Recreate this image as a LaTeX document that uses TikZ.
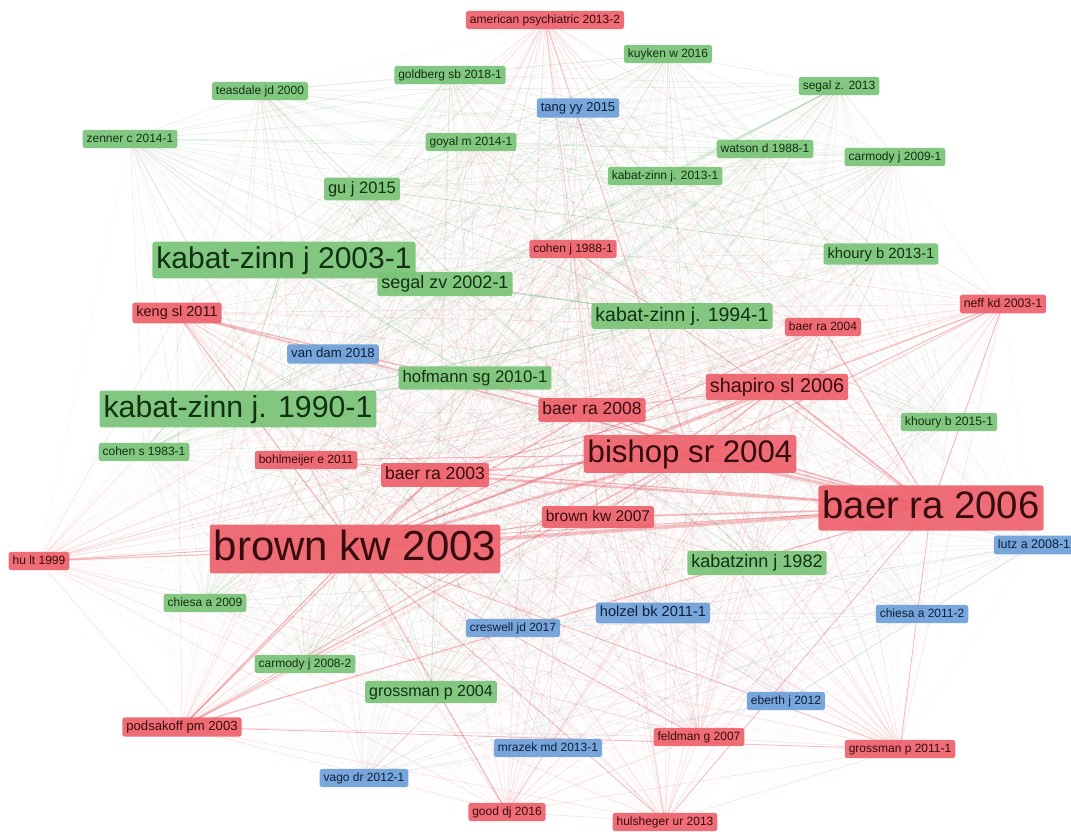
\documentclass[tikz,border=0pt]{standalone}
\usepackage{fontspec}
\setmainfont{Liberation Sans}
\pgfdeclarelayer{bg}
\pgfsetlayers{bg,main}
\definecolor{rfill}{RGB}{238,98,108}
\definecolor{gfill}{RGB}{122,196,120}
\definecolor{bfill}{RGB}{110,160,216}
\definecolor{rtext}{RGB}{55,12,14}
\definecolor{gtext}{RGB}{18,48,18}
\definecolor{btext}{RGB}{14,30,58}
\definecolor{redge}{RGB}{226,70,80}
\definecolor{gedge}{RGB}{90,170,95}
\definecolor{bedge}{RGB}{90,140,200}
\definecolor{xedge}{RGB}{150,150,160}
\tikzset{
  lbl/.style={rounded corners=2.5pt, inner xsep=4pt, inner ysep=3pt, anchor=center, fill opacity=0.93, text opacity=1},
  fs/.style={lbl, font=\fontsize{#1}{#1}\selectfont, text height=#1*0.78pt, text depth=#1*0.24pt},
  rn/.style={fs=#1, fill=rfill, text=rtext},
  gn/.style={fs=#1, fill=gfill, text=gtext},
  bn/.style={fs=#1, fill=bfill, text=btext},
  rr/.style={draw=redge, line width=0.45pt, opacity=0.22},
  gg/.style={draw=gedge, line width=0.45pt, opacity=0.2},
  bb/.style={draw=bedge, line width=0.45pt, opacity=0.22},
  rg/.style={draw=redge, line width=0.4pt, opacity=0.08},
  xg/.style={draw=xedge, line width=0.4pt, opacity=0.12},
}
\def\reds{amp,coj,ken,nef,b04,sha,b08,boh,b03,bis,b06,bw07,bw03,hult,pod,fel,gr11,goo,huls}
\def\greens{kuy,gol,sgz,tea,zen,goy,wat,car9,kz13,guj,kz03,kh13,sgzv,kz94,hof,kz90,kh15,cos,kz82,ch09,car8,gr04}
\def\blues{tan,vd,lut,cre,hol,ch11,ebe,mra,vag}
\begin{document}
\begin{tikzpicture}[x=1pt,y=-1pt]
\useasboundingbox (0,0) rectangle (1071,831);
% nodes
\node[rn=12]   (amp)  at (545,20)  {american psychiatric 2013-2};
\node[gn=12]   (kuy)  at (668,54)  {kuyken w 2016};
\node[gn=12]   (gol)  at (450,75)  {goldberg sb 2018-1};
\node[gn=12]   (sgz)  at (839,86)  {segal z. 2013};
\node[gn=12]   (tea)  at (260,91)  {teasdale jd 2000};
\node[bn=13]   (tan)  at (578,108) {tang yy 2015};
\node[gn=12]   (zen)  at (130,139) {zenner c 2014-1};
\node[gn=12]   (goy)  at (471,142) {goyal m 2014-1};
\node[gn=12]   (wat)  at (765,149) {watson d 1988-1};
\node[gn=12]   (car9) at (895,157) {carmody j 2009-1};
\node[gn=12]   (kz13) at (665,176) {kabat-zinn j. 2013-1};
\node[gn=16.5] (guj)  at (362,189) {gu j 2015};
\node[gn=30]   (kz03) at (284,260) {kabat-zinn j 2003-1};
\node[rn=12]   (coj)  at (573,249) {cohen j 1988-1};
\node[gn=14.8] (kh13) at (881,254) {khoury b 2013-1};
\node[gn=18]   (sgzv) at (445,284) {segal zv 2002-1};
\node[rn=14.5] (ken)  at (177,313) {keng sl 2011};
\node[rn=12.3] (nef)  at (1003,304) {neff kd 2003-1};
\node[gn=19.5] (kz94) at (682,316) {kabat-zinn j. 1994-1};
\node[rn=12]   (b04)  at (823,327) {baer ra 2004};
\node[bn=13.2] (vd)   at (333,354) {van dam 2018};
\node[gn=16.8] (hof)  at (475,378) {hofmann sg 2010-1};
\node[rn=19.8] (sha)  at (777,387) {shapiro sl 2006};
\node[gn=30.3] (kz90) at (238,409) {kabat-zinn j. 1990-1};
\node[rn=17.5] (b08)  at (592,410) {baer ra 2008};
\node[gn=12.2] (kh15) at (949,422) {khoury b 2015-1};
\node[gn=12]   (cos)  at (144,452) {cohen s 1983-1};
\node[rn=12]   (boh)  at (306,460) {bohlmeijer e 2011};
\node[rn=17.6] (b03)  at (435,475) {baer ra 2003};
\node[rn=31.2] (bis)  at (690,454) {bishop sr 2004};
\node[rn=38.3] (b06)  at (931,508) {baer ra 2006};
\node[rn=15.5] (bw07) at (598,517) {brown kw 2007};
\node[rn=42]   (bw03) at (355,549) {brown kw 2003};
\node[rn=12]   (hult) at (39,561)  {hu lt 1999};
\node[gn=18]   (kz82) at (757,563) {kabatzinn j 1982};
\node[bn=12.5] (lut)  at (1034,545) {lutz a 2008-1};
\node[gn=12]   (ch09) at (205,603) {chiesa a 2009};
\node[bn=12]   (cre)  at (513,628) {creswell jd 2017};
\node[bn=14.6] (hol)  at (653,613) {holzel bk 2011-1};
\node[bn=12]   (ch11) at (922,614) {chiesa a 2011-2};
\node[gn=12]   (car8) at (305,664) {carmody j 2008-2};
\node[gn=16]   (gr04) at (431,692) {grossman p 2004};
\node[bn=12]   (ebe)  at (786,701) {eberth j 2012};
\node[rn=13.1] (pod)  at (182,727) {podsakoff pm 2003};
\node[bn=12]   (mra)  at (548,748) {mrazek md 2013-1};
\node[rn=12]   (fel)  at (699,737) {feldman g 2007};
\node[rn=12]   (gr11) at (900,749) {grossman p 2011-1};
\node[bn=12]   (vag)  at (364,778) {vago dr 2012-1};
\node[rn=12]   (goo)  at (507,812) {good dj 2016};
\node[rn=12]   (huls) at (665,822) {hulsheger ur 2013};
% edges
\begin{pgfonlayer}{bg}
\foreach \a [count=\i] in \reds {\foreach \b [count=\j] in \reds {\ifnum\j>\i \draw[rr] (\a.center) -- (\b.center);\fi}}
\foreach \a [count=\i] in \greens {\foreach \b [count=\j] in \greens {\ifnum\j>\i \draw[gg] (\a.center) -- (\b.center);\fi}}
\foreach \a [count=\i] in \blues {\foreach \b [count=\j] in \blues {\ifnum\j>\i \draw[bb] (\a.center) -- (\b.center);\fi}}
\foreach \a in \reds {\foreach \b in \greens {\draw[rg] (\a.center) -- (\b.center);}}
\foreach \a in \reds {\foreach \b in \blues {\draw[rg] (\a.center) -- (\b.center);}}
\foreach \a in \greens {\foreach \b in \blues {\draw[xg] (\a.center) -- (\b.center);}}
\foreach \a/\b/\w in {bw03/b06/4,bw03/bis/3,bis/b06/3.5,b03/b06/2.5,b08/b06/2,sha/b06/2,bw07/b06/2,
  bw03/sha/2,bw03/b08/1.5,bw03/b03/1.5,ken/b06/1.5,ken/bw03/1.2,ken/b08/1.5,pod/bw03/1.5,pod/b06/1.2,
  pod/bis/1.2,pod/b03/1,hult/bw03/1.2,hult/b06/1,nef/b06/1,nef/bw03/1,nef/bis/1,b04/b06/1,b04/bw03/1,
  coj/b06/0.8,boh/b06/1.2,boh/bis/1,bw07/bw03/1.2,bw07/bis/1,gr11/b06/0.8,gr11/bw03/0.8,huls/b06/0.8,
  huls/bw03/0.8,fel/bw03/0.8,goo/bw03/0.8,amp/bis/0.8,b03/bis/1.5,b08/bis/1.5,sha/bis/1.5,pod/gr11/0.8,
  pod/sha/0.8,b03/sha/1,b08/sha/1}
  {\draw[draw=redge, line width=\w pt, opacity=0.28] (\a.center) -- (\b.center);}
\foreach \a/\b/\w in {kz03/kz90/1,kz03/sgzv/1,kz90/kz94/0.8,kz03/kz94/0.8,sgz/kz13/1,guj/kh13/0.6,
  kz90/hof/0.8,sgzv/kz94/0.8,kz03/hof/0.8}
  {\draw[draw=gedge, line width=\w pt, opacity=0.25] (\a.center) -- (\b.center);}
\end{pgfonlayer}
\end{tikzpicture}
\end{document}
